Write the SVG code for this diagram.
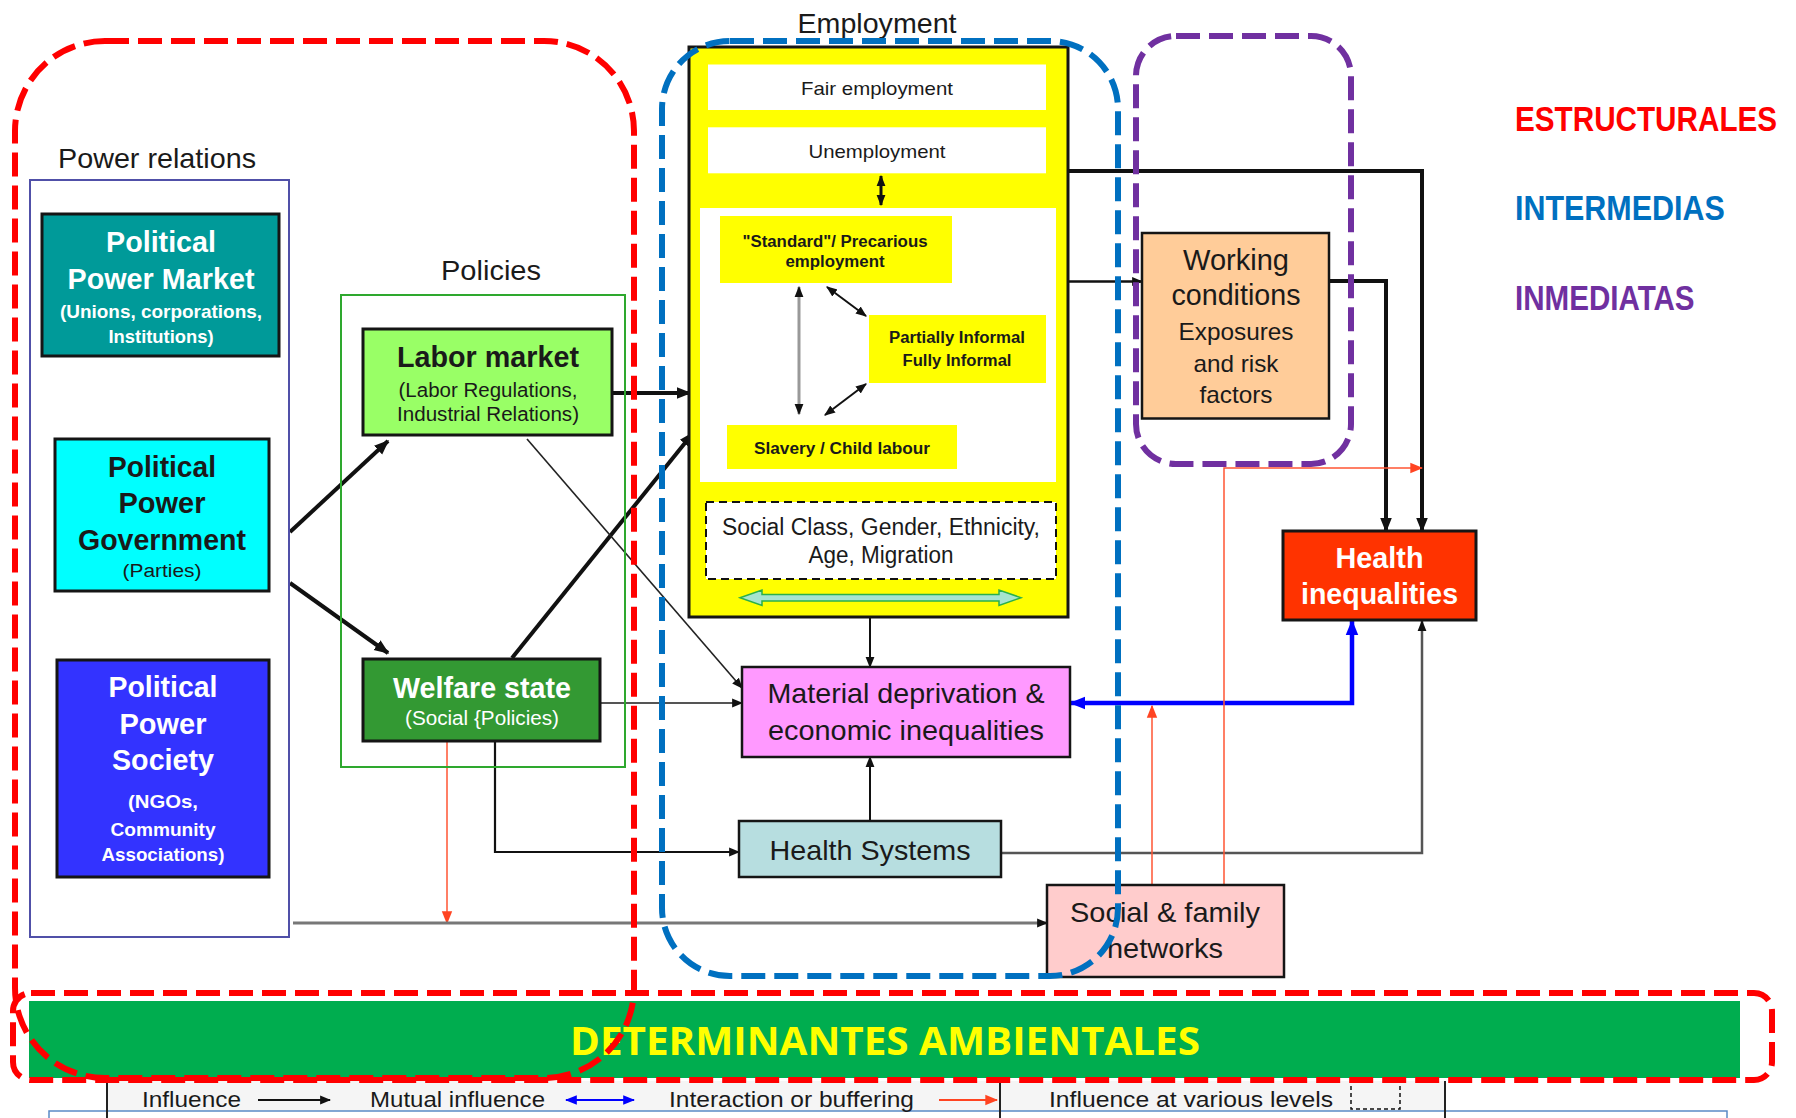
<svg xmlns="http://www.w3.org/2000/svg" width="1796" height="1118" viewBox="0 0 1796 1118">
<defs>
<style>
.t{font-family:"Liberation Sans",Arial,sans-serif;fill:#1a1a1a}
.c{text-anchor:middle}
.b{font-weight:bold}
.w{fill:#ffffff}
.box{stroke:#151515;stroke-width:3}
.ln{fill:none;stroke:#111;stroke-linejoin:miter}
.dash{fill:none;stroke-width:6;stroke-dasharray:24 9}
</style>
<marker id="arr" viewBox="0 0 10 10" refX="9" refY="5" markerWidth="15" markerHeight="15" markerUnits="userSpaceOnUse" orient="auto-start-reverse"><path d="M0,1 L10,5 L0,9 z" fill="#111"/></marker>
<marker id="arrS" viewBox="0 0 10 10" refX="9" refY="5" markerWidth="11" markerHeight="11" markerUnits="userSpaceOnUse" orient="auto-start-reverse"><path d="M0,1 L10,5 L0,9 z" fill="#111"/></marker>
<marker id="arrB" viewBox="0 0 10 10" refX="9" refY="5" markerWidth="16" markerHeight="16" markerUnits="userSpaceOnUse" orient="auto-start-reverse"><path d="M0,1 L10,5 L0,9 z" fill="#0000ff"/></marker>
<marker id="arrBs" viewBox="0 0 10 10" refX="9" refY="5" markerWidth="12" markerHeight="12" markerUnits="userSpaceOnUse" orient="auto-start-reverse"><path d="M0,1 L10,5 L0,9 z" fill="#0000ff"/></marker>
<marker id="arrR" viewBox="0 0 10 10" refX="9" refY="5" markerWidth="13" markerHeight="13" markerUnits="userSpaceOnUse" orient="auto-start-reverse"><path d="M0,1 L10,5 L0,9 z" fill="#ff4422"/></marker>
</defs>
<rect width="1796" height="1118" fill="#ffffff"/>

<!-- legend -->
<g id="legend">
<rect x="107" y="1081" width="1338" height="30" fill="#f5f5f5"/>
<path d="M49,1118 V1111 H1727 V1118" fill="none" stroke="#5a8ac6" stroke-width="1.5"/>
<path d="M107,1081 V1118 M1000,1081 V1118 M1445,1081 V1118" stroke="#222" stroke-width="2"/>
<text class="t" x="142" y="1107" font-size="22" textLength="99" lengthAdjust="spacingAndGlyphs">Influence</text>
<line x1="258" y1="1100" x2="330" y2="1100" stroke="#111" stroke-width="2" marker-end="url(#arrS)"/>
<text class="t" x="370" y="1107" font-size="22" textLength="175" lengthAdjust="spacingAndGlyphs">Mutual influence</text>
<line x1="566" y1="1100" x2="634" y2="1100" stroke="#0000ff" stroke-width="2" marker-start="url(#arrBs)" marker-end="url(#arrBs)"/>
<text class="t" x="669" y="1107" font-size="22" textLength="245" lengthAdjust="spacingAndGlyphs">Interaction or buffering</text>
<line x1="939" y1="1100" x2="997" y2="1100" stroke="#ff4422" stroke-width="2" marker-end="url(#arrR)"/>
<text class="t" x="1049" y="1107" font-size="22" textLength="284" lengthAdjust="spacingAndGlyphs">Influence at various levels</text>
<path d="M1351,1086 V1109 H1400 V1086" fill="none" stroke="#111" stroke-width="1.5" stroke-dasharray="4 3"/>
</g>

<!-- environmental band -->
<g id="ambientales">
<rect x="29" y="1001" width="1711" height="77" fill="#00ad4f"/>
<text x="570" y="1055" font-family="'Open Sans','Liberation Sans',sans-serif" font-weight="bold" font-size="40" fill="#ffff00" textLength="630" lengthAdjust="spacingAndGlyphs">DETERMINANTES AMBIENTALES</text>
</g>

<!-- connectors -->
<g id="connectors">
<line x1="290" y1="532" x2="388" y2="441" stroke="#111" stroke-width="4" marker-end="url(#arr)"/>
<line x1="290" y1="583" x2="388" y2="653" stroke="#111" stroke-width="4" marker-end="url(#arr)"/>
<line x1="612" y1="393" x2="690" y2="393" stroke="#111" stroke-width="4" marker-end="url(#arr)"/>
<line x1="512" y1="658" x2="693" y2="433" stroke="#111" stroke-width="4" marker-end="url(#arr)"/>
<line x1="527" y1="439" x2="742" y2="688" stroke="#222" stroke-width="1.6" marker-end="url(#arrS)"/>
<line x1="600" y1="703" x2="742" y2="703" stroke="#555" stroke-width="2.2" marker-end="url(#arrS)"/>
<polyline points="495,741 495,852 739,852" class="ln" stroke="#333" stroke-width="2.2" marker-end="url(#arrS)"/>
<line x1="447" y1="741" x2="447" y2="923" stroke="#ff5533" stroke-width="1.5" marker-end="url(#arrR)"/>
<line x1="293" y1="923" x2="1047" y2="923" stroke="#777" stroke-width="3" marker-end="url(#arrS)"/>
<line x1="870" y1="617" x2="870" y2="667" stroke="#111" stroke-width="2" marker-end="url(#arrS)"/>
<line x1="870" y1="821" x2="870" y2="757" stroke="#111" stroke-width="2" marker-end="url(#arrS)"/>
<line x1="1068" y1="281.5" x2="1142" y2="281.5" stroke="#111" stroke-width="2.5" marker-end="url(#arrS)"/>
<polyline points="1068,171 1422,171 1422,531" class="ln" stroke-width="4" marker-end="url(#arr)"/>
<polyline points="1329,281 1386,281 1386,531" class="ln" stroke-width="4" marker-end="url(#arr)"/>
<polyline points="1071,703 1352,703 1352,621" fill="none" stroke="#0000ff" stroke-width="4.5" marker-start="url(#arrB)" marker-end="url(#arrB)"/>
<polyline points="1001,853 1422,853 1422,621" fill="none" stroke="#555" stroke-width="2.5" marker-end="url(#arrS)"/>
<line x1="1152" y1="885" x2="1152" y2="706" stroke="#ff5533" stroke-width="1.5" marker-end="url(#arrR)"/>
<polyline points="1224,890 1224,468 1422,468" fill="none" stroke="#ff5533" stroke-width="1.5" marker-end="url(#arrR)"/>
</g>

<!-- power relations -->
<g id="power-relations">
<text class="t" x="58" y="168" font-size="28" textLength="198" lengthAdjust="spacingAndGlyphs">Power relations</text>
<rect x="30" y="180" width="259" height="757" fill="none" stroke="#5050a8" stroke-width="2"/>
</g>
<g id="pp-market">
<rect x="42" y="214" width="237" height="142" fill="#009a99" class="box"/>
<text class="t c b w" x="161" y="251.7" font-size="29" textLength="110" lengthAdjust="spacingAndGlyphs">Political</text>
<text class="t c b w" x="161" y="288.5" font-size="29" textLength="187" lengthAdjust="spacingAndGlyphs">Power Market</text>
<text class="t c b w" x="161" y="317.7" font-size="19" textLength="202" lengthAdjust="spacingAndGlyphs">(Unions, corporations,</text>
<text class="t c b w" x="161" y="343.4" font-size="19" textLength="105" lengthAdjust="spacingAndGlyphs">Institutions)</text>
</g>
<g id="pp-government">
<rect x="55" y="439" width="214" height="152" fill="#00ffff" class="box"/>
<text class="t c b" x="162" y="476.6" font-size="29" textLength="108" lengthAdjust="spacingAndGlyphs">Political</text>
<text class="t c b" x="162" y="513" font-size="29" textLength="87" lengthAdjust="spacingAndGlyphs">Power</text>
<text class="t c b" x="162" y="550" font-size="29" textLength="168" lengthAdjust="spacingAndGlyphs">Government</text>
<text class="t c" x="162" y="577" font-size="18" textLength="79" lengthAdjust="spacingAndGlyphs">(Parties)</text>
</g>
<g id="pp-society">
<rect x="57" y="660" width="212" height="217" fill="#3333ff" class="box"/>
<text class="t c b w" x="163" y="697.4" font-size="29" textLength="109" lengthAdjust="spacingAndGlyphs">Political</text>
<text class="t c b w" x="163" y="733.6" font-size="29" textLength="87" lengthAdjust="spacingAndGlyphs">Power</text>
<text class="t c b w" x="163" y="770" font-size="29" textLength="102" lengthAdjust="spacingAndGlyphs">Society</text>
<text class="t c b w" x="163" y="808" font-size="19" textLength="70" lengthAdjust="spacingAndGlyphs">(NGOs,</text>
<text class="t c b w" x="163" y="835.8" font-size="19" textLength="105" lengthAdjust="spacingAndGlyphs">Community</text>
<text class="t c b w" x="163" y="861" font-size="19" textLength="123" lengthAdjust="spacingAndGlyphs">Associations)</text>
</g>

<!-- policies -->
<g id="policies">
<text class="t c" x="491" y="280" font-size="27" textLength="100" lengthAdjust="spacingAndGlyphs">Policies</text>
<rect x="341" y="295" width="284" height="472" fill="none" stroke="#2ea82e" stroke-width="2"/>
</g>
<g id="labor-market">
<rect x="363" y="329" width="249" height="106" fill="#99ff66" class="box"/>
<text class="t c b" x="488" y="366.7" font-size="30" textLength="182" lengthAdjust="spacingAndGlyphs">Labor market</text>
<text class="t c" x="488" y="396.7" font-size="20" textLength="179" lengthAdjust="spacingAndGlyphs">(Labor Regulations,</text>
<text class="t c" x="488" y="420.7" font-size="20" textLength="182" lengthAdjust="spacingAndGlyphs">Industrial Relations)</text>
</g>
<g id="welfare-state">
<rect x="363" y="659" width="237" height="82" fill="#339933" class="box"/>
<text class="t c b w" x="482" y="698.3" font-size="30" textLength="178" lengthAdjust="spacingAndGlyphs">Welfare state</text>
<text class="t c w" x="482" y="725" font-size="20" textLength="154" lengthAdjust="spacingAndGlyphs">(Social {Policies)</text>
</g>

<!-- employment -->
<g id="employment">
<text class="t c" x="877" y="32.6" font-size="28" textLength="159" lengthAdjust="spacingAndGlyphs">Employment</text>
<rect x="689" y="47" width="379" height="570" fill="#ffff00" class="box"/>
<rect x="708" y="64.5" width="338" height="45.5" fill="#ffffff"/>
<text class="t c" x="877" y="94.7" font-size="19" textLength="152" lengthAdjust="spacingAndGlyphs">Fair employment</text>
<rect x="708" y="127.3" width="338" height="46" fill="#ffffff"/>
<text class="t c" x="877" y="158" font-size="19" textLength="137" lengthAdjust="spacingAndGlyphs">Unemployment</text>
<line x1="881" y1="176" x2="881" y2="205" stroke="#111" stroke-width="3" marker-start="url(#arrS)" marker-end="url(#arrS)"/>
<rect x="700" y="208" width="356" height="274" fill="#ffffff"/>
<rect x="720" y="216" width="232" height="67" fill="#ffff00"/>
<text class="t c b" x="835" y="246.8" font-size="16" textLength="185" lengthAdjust="spacingAndGlyphs">"Standard"/ Precarious</text>
<text class="t c b" x="835" y="267" font-size="16" textLength="99" lengthAdjust="spacingAndGlyphs">employment</text>
<rect x="869" y="315" width="177" height="68" fill="#ffff00"/>
<text class="t c b" x="957" y="342.7" font-size="16" textLength="136" lengthAdjust="spacingAndGlyphs">Partially Informal</text>
<text class="t c b" x="957" y="366.4" font-size="16" textLength="109" lengthAdjust="spacingAndGlyphs">Fully Informal</text>
<rect x="727" y="425" width="230" height="44" fill="#ffff00"/>
<text class="t c b" x="842" y="453.7" font-size="16" textLength="176" lengthAdjust="spacingAndGlyphs">Slavery / Child labour</text>
<line x1="799" y1="287" x2="799" y2="414" stroke="#999" stroke-width="3" marker-start="url(#arrS)" marker-end="url(#arrS)"/>
<line x1="827" y1="287" x2="866" y2="316" stroke="#111" stroke-width="2" marker-start="url(#arrS)" marker-end="url(#arrS)"/>
<line x1="825" y1="415" x2="866" y2="384" stroke="#111" stroke-width="2" marker-start="url(#arrS)" marker-end="url(#arrS)"/>
<rect x="706" y="502" width="350" height="77" fill="#ffffff" stroke="#111" stroke-width="2" stroke-dasharray="8 5"/>
<text class="t c" x="881" y="534.5" font-size="23" textLength="318" lengthAdjust="spacingAndGlyphs" fill="#222">Social Class, Gender, Ethnicity,</text>
<text class="t c" x="881" y="563" font-size="23" textLength="145" lengthAdjust="spacingAndGlyphs">Age, Migration</text>
<path d="M740,597.7 L762,590 L762,594.5 L999,594.5 L999,590 L1021,597.7 L999,605.4 L999,600.9 L762,600.9 L762,605.4 Z" fill="#a6e4cf" stroke="#2bb04a" stroke-width="1.5"/>
</g>

<g id="working-conditions">
<rect x="1142" y="233" width="187" height="185.5" fill="#ffcc99" stroke="#151515" stroke-width="2.5"/>
<text class="t c" x="1236" y="270" font-size="30" textLength="106" lengthAdjust="spacingAndGlyphs">Working</text>
<text class="t c" x="1236" y="305" font-size="30" textLength="129" lengthAdjust="spacingAndGlyphs">conditions</text>
<text class="t c" x="1236" y="340" font-size="24" textLength="115" lengthAdjust="spacingAndGlyphs">Exposures</text>
<text class="t c" x="1236" y="371.7" font-size="24" textLength="85" lengthAdjust="spacingAndGlyphs">and risk</text>
<text class="t c" x="1236" y="403.3" font-size="24" textLength="73" lengthAdjust="spacingAndGlyphs">factors</text>
</g>

<g id="health-inequalities">
<rect x="1283" y="531" width="193" height="89" fill="#ff3300" class="box"/>
<text class="t c b w" x="1379.5" y="568.3" font-size="30" textLength="88" lengthAdjust="spacingAndGlyphs">Health</text>
<text class="t c b w" x="1379.5" y="604" font-size="30" textLength="157" lengthAdjust="spacingAndGlyphs">inequalities</text>
</g>

<g id="material-deprivation">
<rect x="742" y="667" width="328" height="90" fill="#ff99ff" stroke="#151515" stroke-width="2.5"/>
<text class="t c" x="906" y="703.3" font-size="28" textLength="277" lengthAdjust="spacingAndGlyphs">Material deprivation &amp;</text>
<text class="t c" x="906" y="740" font-size="28" textLength="276" lengthAdjust="spacingAndGlyphs">economic inequalities</text>
</g>

<g id="health-systems">
<rect x="739" y="821" width="262" height="56" fill="#b7dee0" stroke="#151515" stroke-width="2.5"/>
<text class="t c" x="870" y="860" font-size="28" textLength="201" lengthAdjust="spacingAndGlyphs">Health Systems</text>
</g>

<g id="social-networks">
<rect x="1047" y="885" width="237" height="92" fill="#ffcccc" stroke="#151515" stroke-width="2.5"/>
<text class="t c" x="1165" y="921.7" font-size="28" textLength="190" lengthAdjust="spacingAndGlyphs">Social &amp; family</text>
<text class="t c" x="1165" y="958.3" font-size="28" textLength="116" lengthAdjust="spacingAndGlyphs">networks</text>
</g>

<!-- level containers -->
<g id="level-containers">
<rect x="15" y="41" width="619" height="1037" rx="90" ry="90" class="dash" stroke="#ff0000"/>
<rect x="13" y="993" width="1759" height="87" rx="18" ry="18" class="dash" stroke="#ff0000"/>
<rect x="662" y="41" width="456" height="935" rx="68" ry="68" class="dash" stroke="#0070c0"/>
<rect x="1136" y="36" width="215" height="428" rx="40" ry="40" class="dash" stroke="#7030a0"/>
</g>

<g id="level-labels">
<text class="t b" transform="translate(1515,130.6) scale(0.848,1)" x="0" y="0" font-size="35" style="fill:#ff0000">ESTRUCTURALES</text>
<text class="t b" transform="translate(1515,220.3) scale(0.87,1)" x="0" y="0" font-size="35" style="fill:#0070c0">INTERMEDIAS</text>
<text class="t b" transform="translate(1515,310) scale(0.845,1)" x="0" y="0" font-size="35" style="fill:#7030a0">INMEDIATAS</text>
</g>
</svg>
